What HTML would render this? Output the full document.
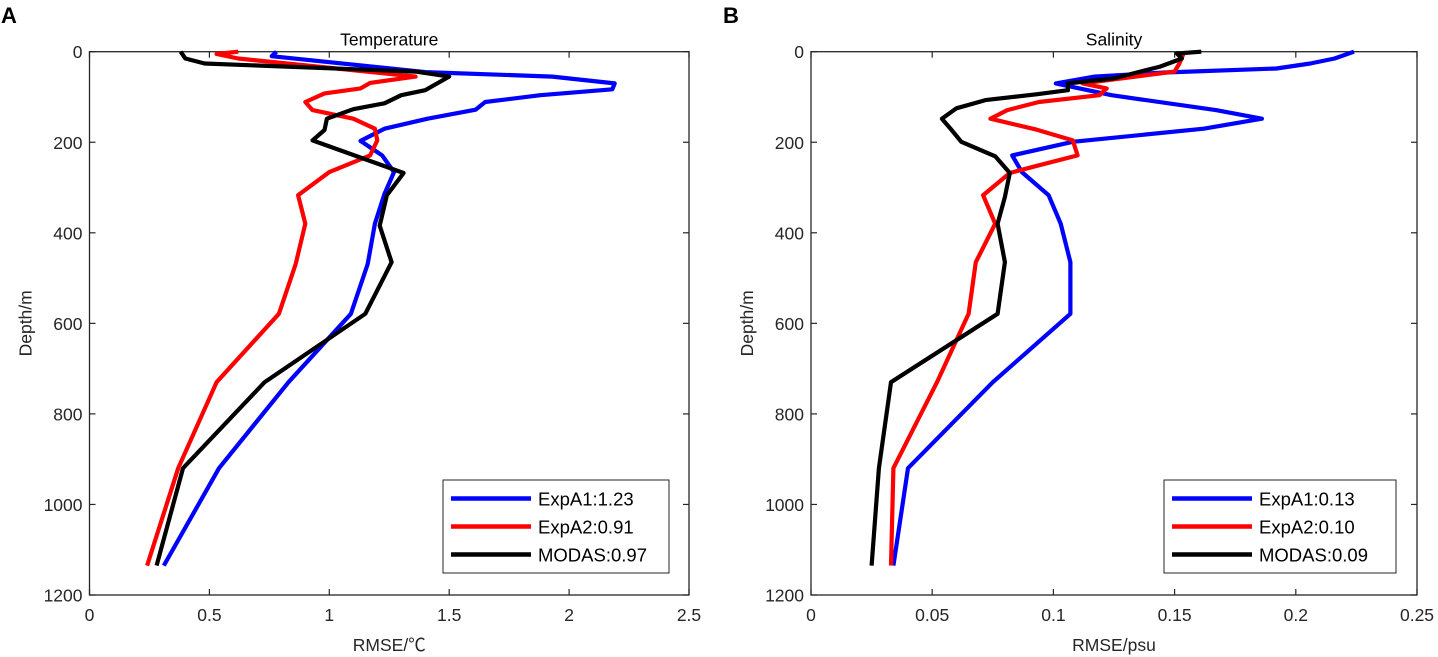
<!DOCTYPE html>
<html><head><meta charset="utf-8"><style>
html,body{margin:0;padding:0;background:#fff;}
svg{display:block;font-family:"Liberation Sans","Noto Sans CJK SC",sans-serif;}
</style></head><body>
<svg id="fig" width="1438" height="657" viewBox="0 0 1438 657" xmlns="http://www.w3.org/2000/svg"></svg>
<script>
const depthTicks=[0,200,400,600,800,1000,1200];
const tempTicks=[0,0.5,1,1.5,2,2.5];
const salTicks=[0,0.05,0.1,0.15,0.2,0.25];
const tempTickLabels=["0","0.5","1","1.5","2","2.5"];
const salTickLabels=["0","0.05","0.1","0.15","0.2","0.25"];
const depthTickLabels=["0","200","400","600","800","1000","1200"];
const seriesNames=["ExpA1","ExpA2","MODAS"];
const tempLegend=["ExpA1:1.23","ExpA2:0.91","MODAS:0.97"];
const salLegend=["ExpA1:0.13","ExpA2:0.10","MODAS:0.09"];
const tA1Depth=[0,10,45,55,70,83,96,111,128,148,170,197,229,266,314,380,469,579,730,920,1135];
const tA1Val=[0.78,0.76,1.4,1.93,2.19,2.18,1.88,1.65,1.61,1.41,1.23,1.13,1.22,1.27,1.23,1.19,1.16,1.09,0.83,0.54,0.31];
const tA2Depth=[0,5,15,55,69,81,92,111,129,148,170,196,229,266,317,380,469,579,730,920,1135];
const tA2Val=[0.62,0.53,0.62,1.36,1.17,1.13,0.98,0.9,0.93,1.1,1.19,1.2,1.17,1.0,0.87,0.9,0.86,0.79,0.53,0.37,0.24];
const tMDepth=[0,15,26,44,55,85,96,114,127,148,173,196,268,317,384,465,579,730,920,1135];
const tMVal=[0.38,0.4,0.48,1.36,1.5,1.4,1.3,1.23,1.1,0.99,0.98,0.93,1.31,1.24,1.21,1.26,1.15,0.73,0.39,0.28];
const sA1Depth=[0,15,26,37,46,55,70,96,129,148,170,199,229,266,317,380,465,579,730,920,1135];
const sA1Val=[0.224,0.216,0.206,0.192,0.146,0.117,0.101,0.124,0.167,0.186,0.162,0.108,0.083,0.087,0.098,0.103,0.107,0.107,0.075,0.04,0.034];
const sA2Depth=[0,26,44,70,81,96,111,129,148,172,196,229,251,268,317,380,465,579,730,920,1135];
const sA2Val=[0.154,0.152,0.15,0.112,0.122,0.119,0.094,0.081,0.074,0.093,0.108,0.11,0.094,0.082,0.071,0.076,0.068,0.065,0.052,0.034,0.033];
const sMDepth=[0,4,15,33,59,70,85,94,107,125,148,173,199,231,268,321,380,465,579,730,920,1135];
const sMVal=[0.161,0.151,0.153,0.144,0.125,0.106,0.106,0.093,0.072,0.06,0.054,0.058,0.062,0.076,0.082,0.08,0.077,0.08,0.077,0.033,0.028,0.025];

const NS="http://www.w3.org/2000/svg";
const svg=document.getElementById('fig');
const colors=["#0000ff","#ff0000","#000000"];
function mk(tag,attrs,parent){const e=document.createElementNS(NS,tag);for(const k in attrs)e.setAttribute(k,attrs[k]);(parent||svg).appendChild(e);return e;}

function panel(cfg){
  const {x0,x1,y0,y1,xmax,ymax}=cfg;
  const sx=v=>x0+(v/xmax)*(x1-x0);
  const sy=d=>y0+(d/ymax)*(y1-y0);
  const g=mk('g',{});
  
  
  const box=mk('rect',{x:x0,y:y0,width:x1-x0,height:y1-y0,fill:'#fff',stroke:'#262626','stroke-width':1.3},g);
  
  
  cfg.xTicks.forEach((t,i)=>{
    const x=sx(t);
    mk('line',{x1:x,x2:x,y1:y1,y2:y1-6,stroke:'#262626','stroke-width':1.2},g);
    mk('line',{x1:x,x2:x,y1:y0,y2:y0+6,stroke:'#262626','stroke-width':1.2},g);
    const tx=mk('text',{x:x,y:y1+26,'text-anchor':'middle','font-size':17.5,fill:'#262626'},g);
    tx.textContent=cfg.xLabels[i];
    
    
  });
  depthTicks.forEach((t,i)=>{
    const y=sy(t);
    mk('line',{x1:x0,x2:x0+6,y1:y,y2:y,stroke:'#262626','stroke-width':1.2},g);
    mk('line',{x1:x1,x2:x1-6,y1:y,y2:y,stroke:'#262626','stroke-width':1.2},g);
    const tx=mk('text',{x:x0-7,y:y+6.5,'text-anchor':'end','font-size':17.5,fill:'#262626'},g);
    tx.textContent=depthTickLabels[i];
    
    
  });
  cfg.series.forEach((s,k)=>{
    const pts=s[0].map((d,i)=>sx(s[1][i]).toFixed(1)+','+sy(d).toFixed(1)).join(' ');
    const pl=mk('polyline',{points:pts,fill:'none',stroke:colors[k],'stroke-width':4.2,'stroke-linejoin':'round'},g);
    
    
  });
  const t=mk('text',{x:(x0+x1)/2,y:y0-6,'text-anchor':'middle','font-size':17.5,fill:'#000'},g);
  t.textContent=cfg.title;
  
  
  const xl=mk('text',{x:(x0+x1)/2,y:y1+56,'text-anchor':'middle','font-size':17.5,fill:'#262626'},g);
  xl.textContent=cfg.xTitle;
  
  
  const yl=mk('text',{x:0,y:0,'text-anchor':'middle','font-size':17.5,fill:'#262626',transform:`translate(${x0-58},${(y0+y1)/2}) rotate(-90)`},g);
  yl.textContent='Depth/m';
  
  
  const lg=mk('g',{},g);
  
  
  const lx=x1-cfg.legOff,ly=480;
  mk('rect',{x:lx,y:ly,width:cfg.legW,height:93,fill:'#fff',stroke:'#262626','stroke-width':1},lg);
  cfg.legend.forEach((txt,k)=>{
    const yy=ly+18.5+k*28;
    mk('line',{x1:lx+8,x2:lx+88,y1:yy,y2:yy,stroke:colors[k],'stroke-width':4.5},lg);
    const tt=mk('text',{x:lx+95,y:yy+7,'font-size':18.5,fill:'#000'},lg);
    tt.textContent=txt;
    
    
  });
  const pl=mk('text',{x:cfg.labelX,y:23,'font-size':22,'font-weight':'bold',fill:'#000'},g);
  pl.textContent=cfg.letter;
  
  
}
panel({name:'temperature-chart',x0:89.5,x1:689,y0:51.7,y1:595,xmax:2.5,ymax:1200,xTicks:tempTicks,xLabels:tempTickLabels,legOff:246,legW:226,
  series:[[tA1Depth,tA1Val],[tA2Depth,tA2Val],[tMDepth,tMVal]],title:'Temperature',xTitle:'RMSE/℃',legend:tempLegend,letter:'A',labelX:1});
panel({name:'salinity-chart',x0:811,x1:1417,y0:51.7,y1:595,xmax:0.25,ymax:1200,xTicks:salTicks,xLabels:salTickLabels,legOff:253,legW:232,
  series:[[sA1Depth,sA1Val],[sA2Depth,sA2Val],[sMDepth,sMVal]],title:'Salinity',xTitle:'RMSE/psu',legend:salLegend,letter:'B',labelX:723});
</script>
</body></html>
